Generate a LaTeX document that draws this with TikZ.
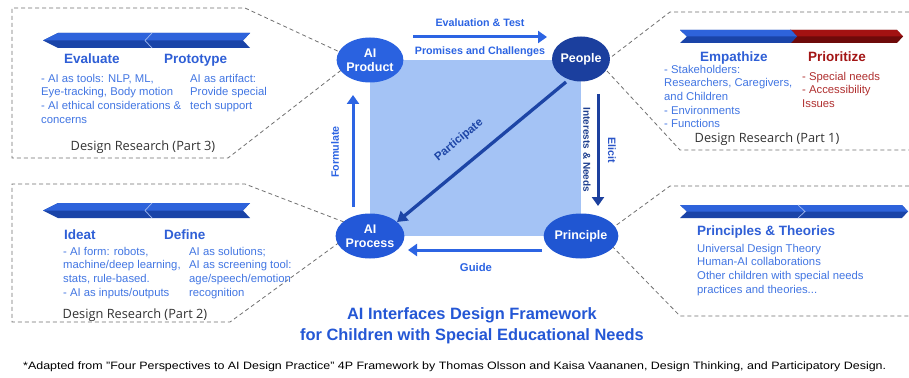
\documentclass[tikz,border=0pt]{standalone}
\usepackage{fontspec}
\setmainfont{Liberation Sans}
\newfontfamily\osans{Open Sans}
\usetikzlibrary{shapes.geometric,arrows.meta}
\definecolor{hblue}{HTML}{2F5FD6}
\definecolor{bblue}{HTML}{4276E3}
\definecolor{hred}{HTML}{A31515}
\definecolor{bred}{HTML}{B03030}
\definecolor{nA}{HTML}{2A62E0}
\definecolor{nP}{HTML}{1B3F9E}
\definecolor{nC}{HTML}{2358D8}
\definecolor{nR}{HTML}{2056D2}
\definecolor{sq}{HTML}{A4C3F5}
\definecolor{abright}{HTML}{2C64E3}
\definecolor{adark}{HTML}{1C409E}
\definecolor{adiag}{HTML}{1D45A6}
\definecolor{ttl}{HTML}{2457D5}
\definecolor{dgray}{HTML}{707070}
\definecolor{drtext}{HTML}{333333}
\definecolor{bup}{HTML}{2E63DB}
\definecolor{bdn}{HTML}{1A44A8}
\definecolor{rup}{HTML}{A31212}
\definecolor{rdn}{HTML}{6E0A0A}
\definecolor{intext}{HTML}{1E3F8F}
\definecolor{elicit}{HTML}{2A55C8}
\newcommand\bannerleft[6]{% xl xr yt yb ym xs
  \fill[bdn] (#1,#5) -- (#1+15,#3) -- (#2,#3) -- (#2-7,#5) -- (#2,#4) -- (#1+15,#4) -- cycle;
  \fill[bup] (#1,#5) -- (#1+15,#3) -- (#2,#3) -- (#2-7,#5) -- cycle;
  \draw[white!55!bup, line width=0.7pt] (#6+7,#3) -- (#6,#5) -- (#6+7,#4);
}
\newcommand\bannerright[8]{% xl xr yt yb ym xs upcolor downcolor
  \fill[#8] (#1,#3) -- (#2-6,#3) -- (#2,#5) -- (#2-6,#4) -- (#1,#4) -- (#1+7,#5) -- cycle;
  \fill[#7] (#1,#3) -- (#2-6,#3) -- (#2,#5) -- (#1+7,#5) -- cycle;
}
\begin{document}
\begin{tikzpicture}[x=1pt,y=-1pt,
  panel/.style={draw=dgray, dash pattern=on 4pt off 3pt, line width=0.8pt},
  hd/.style={font=\fontsize{13.5}{16}\selectfont\bfseries, text=hblue, anchor=base west, inner sep=0pt},
  body/.style={font=\fontsize{11.3}{13.6}\selectfont, text=bblue, align=left, anchor=north west, inner sep=0pt},
  drs/.style={font=\osans\fontsize{12.8}{14}\selectfont, text=drtext, anchor=base, inner sep=0pt},
  circ/.style={ellipse, minimum width=54pt, minimum height=45pt, inner sep=0pt, text=white,
    font=\fontsize{12.5}{14}\selectfont\bfseries, align=center},
  arr/.style={line width=3pt, -{Triangle[length=9pt,width=12pt]}},
  lab/.style={font=\fontsize{10.7}{12}\selectfont\bfseries, inner sep=0pt},
  ttlst/.style={font=\fontsize{16.4}{19}\selectfont\bfseries, text=ttl, anchor=base, inner sep=0pt}
]
\useasboundingbox (0,0) rectangle (909,377);
\fill[white] (0,0) rectangle (909,377);

% panels
\draw[panel] (344,54) -- (245,8) -- (12,8) -- (12,158) -- (228,158) -- (344,68);
\draw[panel] (344,222) -- (245,184) -- (12,184) -- (12,322) -- (230,322) -- (344,239);
\draw[panel] (909,12) -- (670,12) -- (606,61);
\draw[panel] (607,71) -- (680,150) -- (909,150);
\draw[panel] (909,186) -- (670,186) -- (607,232);
\draw[panel] (607,241) -- (680,316) -- (909,316);

% central square
\fill[sq] (370,60) rectangle (581,236);

% nodes
\node[circ, fill=nA] (prod) at (370,60) {AI\\Product};
\node[circ, fill=nP] (peop) at (581,59) {People};
\node[circ, fill=nC] (proc) at (370,236) {AI\\Process};
\node[circ, fill=nR] (prin) at (581,236) {Principle};

% arrows
\coordinate (t1) at (413,37); \coordinate (t2) at (547,37);
\draw[arr, abright] (t1) -- (t2);
\node[lab, text=abright] (evl) at (480,23) {Evaluation \& Test};
\node[lab, text=abright] (prm) at (480,52) {Promises and Challenges};

\coordinate (f1) at (353,207); \coordinate (f2) at (353,95);
\draw[arr, abright] (f1) -- (f2);
\node[lab, text=abright, rotate=90] (frm) at (335,152) {Formulate};

\coordinate (r1) at (598,94); \coordinate (r2) at (598,206);
\draw[arr, adark] (r1) -- (r2);
\node[lab, text=intext, rotate=-90, font=\fontsize{10}{12}\selectfont\bfseries] (int) at (587,150) {Interests \& Needs};
\node[lab, text=elicit, rotate=-90] (eli) at (612,150) {Elicit};

\coordinate (g1) at (542,250); \coordinate (g2) at (408,250);
\draw[arr, abright] (g1) -- (g2);
\node[lab, text=abright, font=\fontsize{11.3}{12}\selectfont\bfseries] (gd) at (476,267) {Guide};

\coordinate (p1) at (566,82); \coordinate (p2) at (397,222);
\draw[line width=3.3pt, adiag, -{Triangle[length=10pt,width=12pt]}] (p1) -- (p2);
\node[lab, text=adiag, rotate=39.6, font=\fontsize{11.5}{12}\selectfont\bfseries] (par) at (459,140) {Participate};

% banners
\bannerleft{43}{250}{33}{48}{40.5}{145}
\bannerleft{43}{250}{203}{218}{210.5}{145}
\bannerright{790}{903}{30}{43}{36.5}{0}{rup}{rdn}
\bannerright{680}{797}{30}{43}{36.5}{0}{bup}{bdn}
\bannerright{680}{908}{205}{218}{211.5}{0}{bup}{bdn}
\draw[white!55!bup, line width=0.7pt] (798,205) -- (805,211.5) -- (798,218);

% Part 3
\node[hd] (ev) at (64,64) {Evaluate};
\node[hd] (pt) at (164,64) {Prototype};
\node[body] (b3a) at (41,74) {- AI as tools: NLP, ML,\\Eye-tracking, Body motion\\- AI ethical considerations \&\\concerns};
\node[body] (b3b) at (190,74) {AI as artifact:\\Provide special\\tech support};
\node[drs] (dr3) at (143,150) {Design Research (Part 3)};

% Part 2
\node[hd] (id) at (64,239) {Ideat};
\node[hd] (df) at (164,239) {Define};
\node[body] (b2a) at (63,247) {- AI form: robots,\\machine/deep learning,\\stats, rule-based.\\- AI as inputs/outputs};
\node[body] (b2b) at (189,247) {AI as solutions;\\AI as screening tool:\\age/speech/emotion\\recognition};
\node[drs] (dr2) at (135,318) {Design Research (Part 2)};

% Part 1
\node[hd] (em) at (700,62) {Empathize};
\node[hd, text=hred] (pr) at (808,62) {Prioritize};
\node[body] (b1a) at (664,65) {- Stakeholders:\\Researchers, Caregivers,\\and Children\\- Environments\\- Functions};
\node[body, text=bred] (b1b) at (802,72) {- Special needs\\- Accessibility\\Issues};
\node[drs] (dr1) at (767,142) {Design Research (Part 1)};

% Part 4
\node[hd] (pth) at (697,235) {Principles \& Theories};
\node[body] (b4) at (697,244) {Universal Design Theory\\Human-AI collaborations\\Other children with special needs\\practices and theories...};

% title
\node[ttlst] (t1n) at (472,319) {AI Interfaces Design Framework};
\node[ttlst] (t2n) at (472,340) {for Children with Special Educational Needs};

% footnote
\node[anchor=base west, inner sep=0pt, text=black, font=\fontsize{10.7}{12}\selectfont] (fn) at (23,369)
  {\resizebox{863pt}{\height}{*Adapted from "Four Perspectives to AI Design Practice" 4P Framework by Thomas Olsson and Kaisa Vaananen, Design Thinking, and Participatory Design.}};
\end{tikzpicture}
\end{document}
